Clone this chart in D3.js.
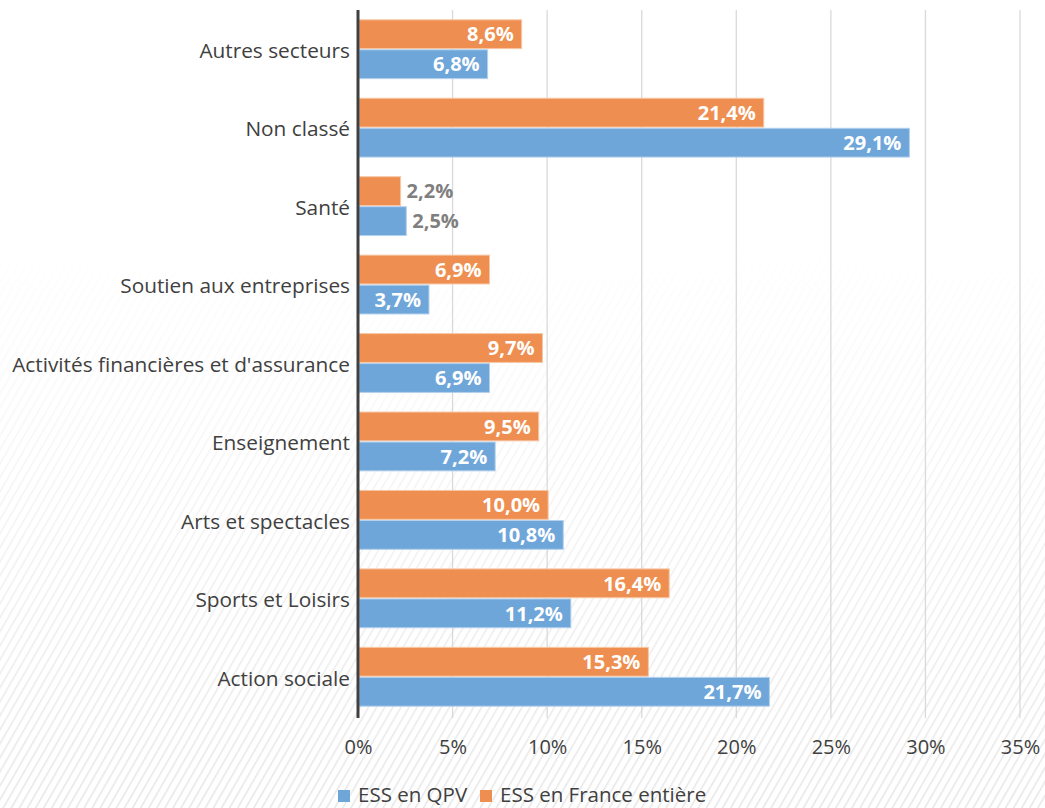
<!DOCTYPE html>
<html>
<head>
<meta charset="utf-8">
<script src="https://cdn.jsdelivr.net/npm/d3@7"></script>
<style>
  body { margin: 0; background: #fff; }
  text { font-family: "Open Sans", Lato, sans-serif; }
</style>
</head>
<body>
<div id="wrapper"></div>
<script>
const QPV_COLOR = "#6fa6da";
const FRANCE_COLOR = "#ee8f51";
const AXIS_COLOR = "#404040";
const GRID_COLOR = "#d9d9d9";

const categories = [
  "Autres secteurs",
  "Non classé",
  "Santé",
  "Soutien aux entreprises",
  "Activités financières et d'assurance",
  "Enseignement",
  "Arts et spectacles",
  "Sports et Loisirs",
  "Action sociale"
];
const franceValues = [8.6, 21.4, 2.2, 6.9, 9.7, 9.5, 10.0, 16.4, 15.3];
const qpvValues = [6.8, 29.1, 2.5, 3.7, 6.9, 7.2, 10.8, 11.2, 21.7];
const xTicks = [0, 5, 10, 15, 20, 25, 30, 35];
const seriesNames = ["ESS en QPV", "ESS en France entière"];

function drawBars() {
  const dimensions = {
    width: 1045,
    height: 808,
    margin: { top: 10, right: 25, bottom: 90, left: 358 }
  };
  dimensions.boundedWidth = dimensions.width - dimensions.margin.left - dimensions.margin.right;
  dimensions.boundedHeight = dimensions.height - dimensions.margin.top - dimensions.margin.bottom;

  const wrapper = d3.select("#wrapper")
    .append("svg")
    .attr("width", dimensions.width)
    .attr("height", dimensions.height);

  // background hatch, fading in towards the bottom
  const defs = wrapper.append("defs");
  const pattern = defs.append("pattern")
    .attr("id", "hatch")
    .attr("width", 7)
    .attr("height", 7)
    .attr("patternUnits", "userSpaceOnUse")
    .attr("patternTransform", "rotate(30)");
  pattern.append("rect").attr("width", 7).attr("height", 7).attr("fill", "#fff");
  pattern.append("line")
    .attr("x1", 0).attr("y1", 0).attr("x2", 0).attr("y2", 7)
    .attr("stroke", "#e6e6e6").attr("stroke-width", 3);

  const grad = defs.append("linearGradient")
    .attr("id", "fade").attr("x1", 0).attr("y1", 0).attr("x2", 0).attr("y2", 1);
  grad.append("stop").attr("offset", "0.3").attr("stop-color", "#fff").attr("stop-opacity", 1);
  grad.append("stop").attr("offset", "1").attr("stop-color", "#fff").attr("stop-opacity", 0);

  wrapper.append("rect")
    .attr("width", dimensions.width).attr("height", dimensions.height)
    .attr("fill", "url(#hatch)");
  wrapper.append("rect")
    .attr("width", dimensions.width).attr("height", dimensions.height)
    .attr("fill", "url(#fade)");

  const bounds = wrapper.append("g")
    .attr("transform", `translate(${dimensions.margin.left}, ${dimensions.margin.top})`);

  const xScale = d3.scaleLinear()
    .domain([0, 35])
    .range([0, 662]);

  const yScale = d3.scaleBand()
    .domain(categories)
    .range([0, dimensions.boundedHeight - 2])
    .paddingInner(0.25)
    .paddingOuter(0.125);

  const subScale = d3.scaleBand()
    .domain(["france", "qpv"])
    .range([0, yScale.bandwidth()])
    .paddingInner(0.04);

  // gridlines
  bounds.append("g")
    .selectAll("line")
    .data(xTicks.slice(1))
    .join("line")
    .attr("x1", d => xScale(d))
    .attr("x2", d => xScale(d))
    .attr("y1", 0)
    .attr("y2", dimensions.boundedHeight)
    .attr("stroke", GRID_COLOR)
    .attr("stroke-width", 1.3);

  const rows = categories.map((c, i) => ({
    category: c,
    france: franceValues[i],
    qpv: qpvValues[i]
  }));

  const groups = bounds.append("g")
    .selectAll("g")
    .data(rows)
    .join("g")
    .attr("transform", d => `translate(0, ${yScale(d.category)})`);

  const seriesInfo = [
    { key: "france", color: FRANCE_COLOR, stroke: "#f7c6a4" },
    { key: "qpv", color: QPV_COLOR, stroke: "#b4d0ec" }
  ];

  seriesInfo.forEach(s => {
    groups.append("rect")
      .attr("x", 1)
      .attr("y", subScale(s.key))
      .attr("width", d => xScale(d[s.key]))
      .attr("height", subScale.bandwidth())
      .attr("fill", s.color)
      .attr("stroke", s.stroke)
      .attr("stroke-width", 1);

    groups.append("text")
      .attr("x", d => xScale(d[s.key]) < 60 ? xScale(d[s.key]) + 7 : xScale(d[s.key]) - 7)
      .attr("y", subScale(s.key) + subScale.bandwidth() / 2)
      .attr("dy", "0.36em")
      .style("text-anchor", d => xScale(d[s.key]) < 60 ? "start" : "end")
      .style("font-size", "20px")
      .style("font-weight", "bold")
      .attr("fill", d => xScale(d[s.key]) < 60 ? "#7f7f7f" : "#fff")
      .text(d => d3.format(".1f")(d[s.key]).replace(".", ",") + "%");
  });

  // category axis
  const yAxisGenerator = d3.axisLeft(yScale).tickSize(0).tickPadding(8);
  const yAxis = bounds.append("g").call(yAxisGenerator);
  yAxis.select(".domain").remove();
  yAxis.selectAll("text")
    .style("font-size", "20.8px")
    .attr("dy", "0.42em")
    .attr("fill", AXIS_COLOR);

  bounds.append("line")
    .attr("x1", 0).attr("x2", 0)
    .attr("y1", 0).attr("y2", dimensions.boundedHeight)
    .attr("stroke", AXIS_COLOR)
    .attr("stroke-width", 3);

  // value axis labels
  const xAxisGenerator = d3.axisBottom(xScale)
    .tickValues(xTicks)
    .tickSize(0)
    .tickPadding(22)
    .tickFormat(d => d + "%");
  const xAxis = bounds.append("g")
    .attr("transform", `translate(0, ${dimensions.boundedHeight})`)
    .call(xAxisGenerator);
  xAxis.select(".domain").remove();
  xAxis.selectAll("text")
    .style("font-size", "20px")
    .attr("fill", AXIS_COLOR);

  // legend
  const legend = wrapper.append("g")
    .attr("transform", "translate(338, 795)");
  const legendItems = [
    { name: seriesNames[0], color: QPV_COLOR, x: 0 },
    { name: seriesNames[1], color: FRANCE_COLOR, x: 142 }
  ];
  legendItems.forEach(item => {
    legend.append("rect")
      .attr("x", item.x).attr("y", -5)
      .attr("width", 12).attr("height", 12)
      .attr("fill", item.color);
    legend.append("text")
      .attr("x", item.x + 20).attr("y", 0)
      .attr("dy", "0.36em")
      .style("font-size", "20.5px")
      .attr("fill", AXIS_COLOR)
      .text(item.name);
  });
}

drawBars();
</script>
</body>
</html>
